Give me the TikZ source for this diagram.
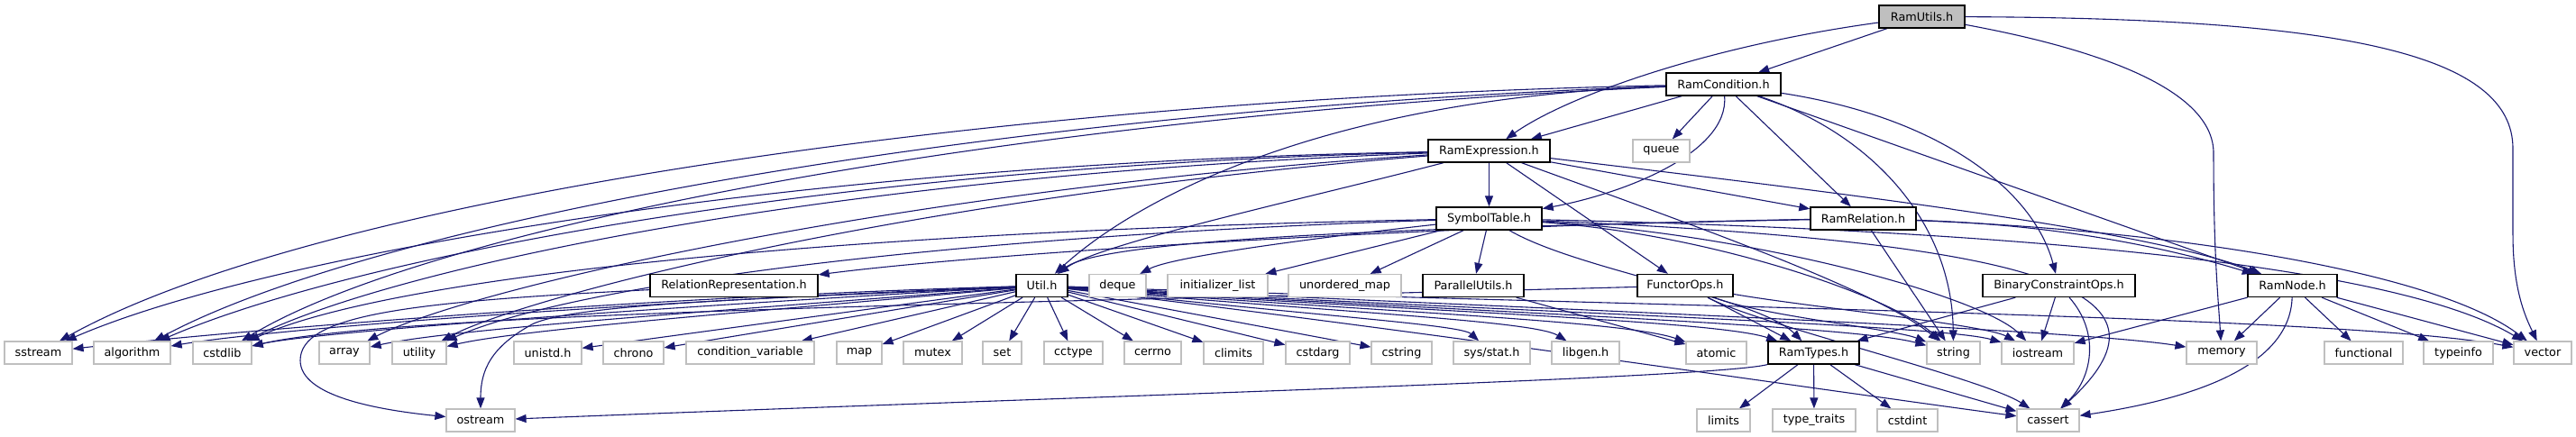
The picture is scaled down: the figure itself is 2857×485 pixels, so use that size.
\documentclass[tikz,border=0pt]{standalone}
\usepackage{fontspec}
\setmainfont{DejaVu Sans}
\usetikzlibrary{arrows.meta}
\definecolor{mb}{HTML}{191970}
\definecolor{gry}{HTML}{BFBFBF}
\pgfdeclarelayer{edges}
\pgfsetlayers{edges,main}
\tikzset{
  nd/.style={inner sep=0pt, minimum height=12.5pt, fill=white, font=\fontsize{6.4pt}{7.5pt}\selectfont, text=black},
  gbox/.style={nd, draw=gry, line width=0.6pt},
  bbox/.style={nd, draw=black, line width=0.7pt},
  e/.style={draw=mb, line width=0.55pt, -{Triangle[length=6pt,width=4.5pt]}, mb},
}
\begin{document}
\begin{tikzpicture}[x=0.5pt,y=-0.5pt]
\useasboundingbox (0,0) rectangle (2857,485);
% top levels
\node[bbox,fill=gry,minimum width=47.5pt] (RU) at (2131.5,18.5) {RamUtils.h};
\node[bbox,minimum width=63.5pt] (RC) at (1911.5,93.5) {RamCondition.h};
\node[bbox,minimum width=67.5pt] (RE) at (1651.5,167.5) {RamExpression.h};
\node[gbox,minimum width=31.5pt] (queue) at (1842.5,167.5) {queue};
\node[bbox,minimum width=58.5pt] (ST) at (1651.5,242.5) {SymbolTable.h};
\node[bbox,minimum width=58.5pt] (RRel) at (2066.5,242.5) {RamRelation.h};
% row 3
\node[bbox,minimum width=93pt] (RR) at (814,317) {RelationRepresentation.h};
\node[bbox,minimum width=28.5pt] (U) at (1155.5,317) {Util.h};
\node[gbox,minimum width=31.5pt] (deque) at (1239.5,317) {deque};
\node[gbox,minimum width=55.5pt] (initlist) at (1350.5,317) {initializer\_list};
\node[gbox,minimum width=62.5pt] (umap) at (1491.5,317) {unordered\_map};
\node[bbox,minimum width=56pt] (PU) at (1634,317) {ParallelUtils.h};
\node[bbox,minimum width=53pt] (FO) at (1869,317) {FunctorOps.h};
\node[bbox,minimum width=84.5pt] (BCO) at (2283.5,317) {BinaryConstraintOps.h};
\node[bbox,minimum width=49.5pt] (RN) at (2542.5,317) {RamNode.h};
% row 4
\node[gbox,minimum width=37.5pt] (sstream) at (42.5,391.5) {sstream};
\node[gbox,minimum width=42.5pt] (algorithm) at (146.5,391.5) {algorithm};
\node[gbox,minimum width=32.5pt] (cstdlib) at (246.5,391.5) {cstdlib};
\node[gbox,minimum width=28pt] (array) at (382,391.5) {array};
\node[gbox,minimum width=30pt] (utility) at (465,391.5) {utility};
\node[gbox,minimum width=37.5pt] (unistd) at (607.5,391.5) {unistd.h};
\node[gbox,minimum width=33.5pt] (chrono) at (702.5,391.5) {chrono};
\node[gbox,minimum width=71pt] (condvar) at (832,391.5) {condition\_variable};
\node[gbox,minimum width=25pt] (map) at (953,391.5) {map};
\node[gbox,minimum width=32.5pt] (mutex) at (1034.5,391.5) {mutex};
\node[gbox,minimum width=21.5pt] (set) at (1111.5,391.5) {set};
\node[gbox,minimum width=32.5pt] (cctype) at (1190.5,391.5) {cctype};
\node[gbox,minimum width=31.5pt] (cerrno) at (1278.5,391.5) {cerrno};
\node[gbox,minimum width=33pt] (climits) at (1368,391.5) {climits};
\node[gbox,minimum width=35.5pt] (cstdarg) at (1461.5,391.5) {cstdarg};
\node[gbox,minimum width=33.5pt] (cstring) at (1554.5,391.5) {cstring};
\node[gbox,minimum width=42.5pt] (sysstat) at (1654.5,391.5) {sys/stat.h};
\node[gbox,minimum width=37.5pt] (libgen) at (1758.5,391.5) {libgen.h};
\node[gbox,minimum width=33.5pt] (atomic) at (1903.5,391.5) {atomic};
\node[bbox,minimum width=50.5pt] (RT) at (2011.5,391.5) {RamTypes.h};
\node[gbox,minimum width=29.5pt] (string) at (2166.5,391.5) {string};
\node[gbox,minimum width=40pt] (iostream) at (2260,391.5) {iostream};
\node[gbox,minimum width=39pt] (memory) at (2464,391.5) {memory};
\node[gbox,minimum width=43.5pt] (functional) at (2621.5,391.5) {functional};
\node[gbox,minimum width=38.5pt] (typeinfo) at (2726.5,391.5) {typeinfo};
\node[gbox,minimum width=32pt] (vector) at (2820,391.5) {vector};
% row 5
\node[gbox,minimum width=38pt] (ostream) at (533,466.5) {ostream};
\node[gbox,minimum width=29.5pt] (limits) at (1911.5,466.5) {limits};
\node[gbox,minimum width=46pt] (typetraits) at (2012,466.5) {type\_traits};
\node[gbox,minimum width=33.5pt] (cstdint) at (2115.5,466.5) {cstdint};
\node[gbox,minimum width=34.5pt] (cassert) at (2271.5,466.5) {cassert};

\begin{pgfonlayer}{edges}
% RamUtils.h
\draw[e] (RU) -- (RC);
\draw[e] (RU) .. controls (1900,50) and (1740,105) .. (RE);
\draw[e] (RU) .. controls (2330,55) and (2455,100) .. (2455,170) .. controls (2455,280) and (2460,330) .. (memory);
\draw[e] (RU) .. controls (2600,20) and (2787,60) .. (2787,165) -- (2787,260) .. controls (2787,320) and (2800,350) .. (vector);
% RamCondition.h
\draw[e] (RC) -- (RE);
\draw[e] (RC) -- (queue);
\draw[e] (RC) .. controls (1918,170) and (1800,215) .. (ST);
\draw[e] (RC) -- (RRel);
\draw[e] (RC) .. controls (2080,150) and (2165,250) .. (string);
\draw[e] (RC) .. controls (2150,130) and (2255,210) .. (BCO);
\draw[e] (RC) -- (RN);
\draw[e] (RC) .. controls (1100,110) and (350,220) .. (sstream);
\draw[e] (RC) .. controls (1100,122) and (420,245) .. (algorithm);
\draw[e] (RC) .. controls (1100,130) and (470,255) .. (cstdlib);
\draw[e] (RC) .. controls (1450,110) and (1250,230) .. (U);
% RamExpression.h
\draw[e] (RE) -- (ST);
\draw[e] (RE) -- (FO);
\draw[e] (RE) -- (RRel);
\draw[e] (RE) .. controls (2050,215) and (2380,255) .. (RN);
\draw[e] (RE) .. controls (1850,240) and (2080,320) .. (string);
\draw[e] (RE) .. controls (1450,220) and (1220,270) .. (U);
\draw[e] (RE) .. controls (900,180) and (300,280) .. (sstream);
\draw[e] (RE) .. controls (900,185) and (380,290) .. (algorithm);
\draw[e] (RE) .. controls (900,195) and (430,300) .. (cstdlib);
\draw[e] (RE) .. controls (1000,210) and (520,320) .. (array);
\draw[e] (RE) .. controls (1000,220) and (580,330) .. (utility);
% SymbolTable.h
\draw[e] (ST) -- (PU);
\draw[e] (ST) -- (umap);
\draw[e] (ST) -- (initlist);
\draw[e] (ST) .. controls (1450,265) and (1300,285) .. (deque);
\draw[e] (ST) .. controls (1750,300) and (1950,330) .. (RT);
\draw[e] (ST) .. controls (1900,260) and (2100,330) .. (string);
\draw[e] (ST) .. controls (1950,260) and (2200,330) .. (iostream);
\draw[e] (ST) .. controls (2200,255) and (2650,290) .. (vector);
\draw[e] (ST) .. controls (2300,270) and (2420,330) .. (cassert);
\draw[e] (ST) .. controls (1000,255) and (450,300) .. (cstdlib);
\draw[e] (ST) .. controls (1100,260) and (650,310) .. (utility);
% ParallelUtils.h
\draw[e] (PU) -- (atomic);
% FunctorOps.h
\draw[e] (FO) -- (RT);
\draw[e] (FO) .. controls (1950,350) and (2100,365) .. (string);
\draw[e] (FO) .. controls (2000,340) and (2200,360) .. (iostream);
\draw[e] (FO) .. controls (1950,360) and (2200,420) .. (cassert);
\draw[e] (FO) .. controls (1200,335) and (450,345) .. (cstdlib);
% BinaryConstraintOps.h
\draw[e] (BCO) -- (RT);
\draw[e] (BCO) -- (iostream);
\draw[e] (BCO) .. controls (2330,370) and (2320,420) .. (cassert);
% RamRelation.h
\draw[e] (RRel) .. controls (1600,250) and (1100,280) .. (RR);
\draw[e] (RRel) -- (string);
\draw[e] (RRel) .. controls (2300,250) and (2420,280) .. (RN);
\draw[e] (RRel) .. controls (2400,255) and (2700,300) .. (vector);
\draw[e] (RRel) .. controls (1700,250) and (1230,260) .. (U);
% RamNode.h
\draw[e] (RN) -- (memory);
\draw[e] (RN) -- (functional);
\draw[e] (RN) -- (typeinfo);
\draw[e] (RN) -- (vector);
\draw[e] (RN) -- (iostream);
\draw[e] (RN) .. controls (2540,400) and (2450,440) .. (cassert);
% RamTypes.h
\draw[e] (RT) -- (limits);
\draw[e] (RT) -- (typetraits);
\draw[e] (RT) -- (cstdint);
\draw[e] (RT) -- (cassert);
\draw[e] (RT) .. controls (1900,420) and (1200,440) .. (ostream);
% RelationRepresentation.h
\draw[e] (RR) .. controls (450,335) and (333,350) .. (333,400) .. controls (333,440) and (420,455) .. (ostream);
% Util.h
\draw[e] (U) .. controls (700,330) and (250,368) .. (sstream);
\draw[e] (U) .. controls (700,335) and (300,365) .. (algorithm);
\draw[e] (U) .. controls (750,340) and (350,368) .. (cstdlib);
\draw[e] (U) .. controls (800,345) and (500,365) .. (array);
\draw[e] (U) .. controls (850,345) and (580,365) .. (utility);
\draw[e] (U) .. controls (900,330) and (640,335) .. (590,360) .. controls (545,385) and (533,410) .. (ostream);
\draw[e] (U) -- (unistd);
\draw[e] (U) -- (chrono);
\draw[e] (U) -- (condvar);
\draw[e] (U) -- (map);
\draw[e] (U) -- (mutex);
\draw[e] (U) -- (set);
\draw[e] (U) -- (cctype);
\draw[e] (U) -- (cerrno);
\draw[e] (U) -- (climits);
\draw[e] (U) -- (cstdarg);
\draw[e] (U) -- (cstring);
\draw[e] (U) .. controls (1450,350) and (1620,360) .. (sysstat);
\draw[e] (U) .. controls (1450,345) and (1700,355) .. (libgen);
\draw[e] (U) .. controls (1500,345) and (1800,355) .. (atomic);
\draw[e] (U) .. controls (1550,345) and (1900,355) .. (RT);
\draw[e] (U) .. controls (1600,345) and (2050,360) .. (string);
\draw[e] (U) .. controls (1650,345) and (2150,360) .. (iostream);
\draw[e] (U) .. controls (1700,342) and (2300,365) .. (memory);
\draw[e] (U) .. controls (1800,340) and (2600,350) .. (vector);
\draw[e] (U) .. controls (1600,370) and (2000,430) .. (cassert);
\end{pgfonlayer}
\end{tikzpicture}
\end{document}
